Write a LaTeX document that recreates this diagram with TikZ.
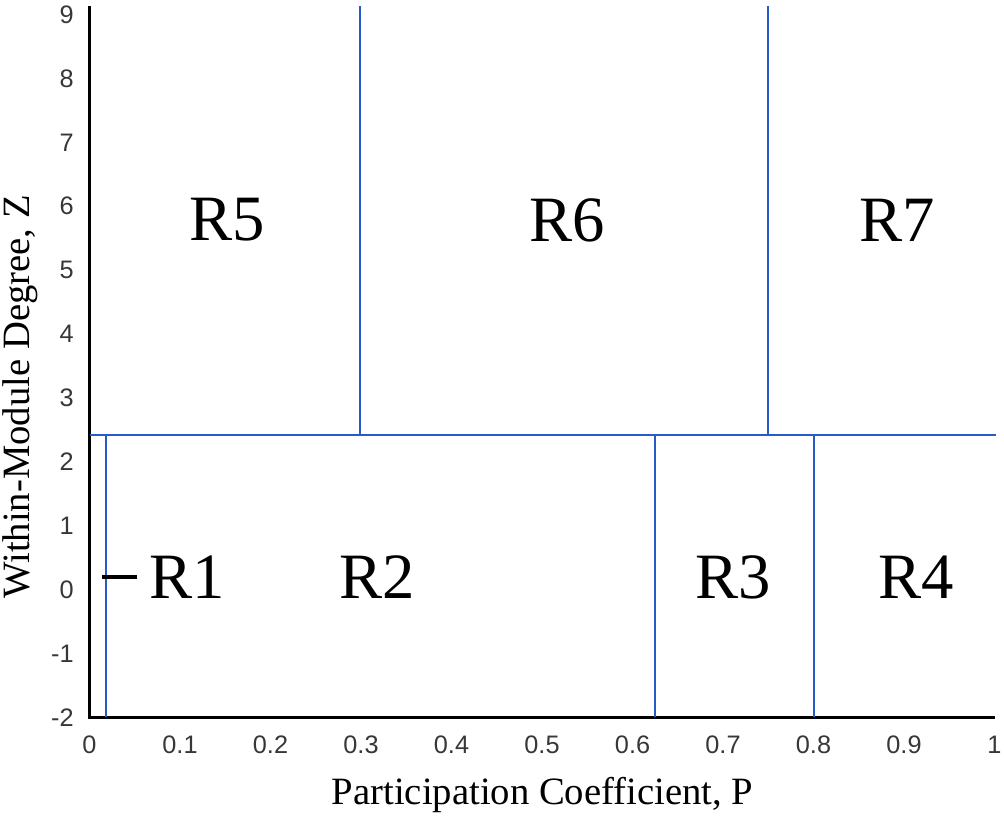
\documentclass[tikz,border=0pt]{standalone}
\usepackage{fontspec}
\setmainfont{Liberation Serif}
\newfontfamily\tickfont{Liberation Sans}
\usepackage{tikz}
\definecolor{regionblue}{RGB}{40,90,200}
\definecolor{tickgray}{RGB}{55,55,55}

\begin{document}
\begin{tikzpicture}[x=22.625cm, y=1.5975cm]
        \tikzset{
            axisline/.style={line width=2.8pt, black},
            border/.style={line width=1.4pt, regionblue},
            region/.style={font=\fontsize{46}{50}\selectfont},
            ticklabel/.style={font=\tickfont\fontsize{18}{20}\selectfont, text=tickgray},
            axistitle/.style={font=\fontsize{27.5}{32}\selectfont}
        }
        \useasboundingbox (-0.0989,-3.557) rectangle (1.0105,9.228);

        % Axes
        \draw[axisline] (0,9.13) -- (0,-2) -- (1,-2);

        % Tick labels
        \foreach \p [count=\i] in {0,0.1,0.2,0.3,0.4,0.5,0.6,0.7,0.8,0.9,1}
            \node[ticklabel] (xt\i) at (\p,-2.43) {\p};
        \foreach \z [count=\i] in {-2,...,9}
            \node[ticklabel, anchor=east] (yt\i) at (-0.012,\z) {\z};

        % Axis titles
        \node[axistitle] (xtitle) at (0.5006,-3.21) {Participation Coefficient, P};
        \node[axistitle, rotate=90] (ytitle) at (-0.0768,3.016) {Within-Module Degree, Z};

        % Region borders
        \draw[border] (0,2.42) -- (1.002,2.42);
        \draw[border] (0.299,9.13) -- (0.299,2.42);
        \draw[border] (0.750,9.13) -- (0.750,2.42);
        \draw[border] (0.018,2.42) -- (0.018,-2);
        \draw[border] (0.625,2.42) -- (0.625,-2);
        \draw[border] (0.801,2.42) -- (0.801,-2);

        % Region labels
        \node[region] (r5) at (0.152,5.786) {R5};
        \node[region] (r6) at (0.528,5.786) {R6};
        \node[region] (r7) at (0.892,5.786) {R7};
        \node[region] (r1) at (0.108,0.199) {R1};
        \node[region] (r2) at (0.318,0.199) {R2};
        \node[region] (r3) at (0.711,0.199) {R3};
        \node[region] (r4) at (0.913,0.199) {R4};

        % Pointer to the thin R1 strip
        \coordinate (r1tip) at (0.0138,0.199);
        \coordinate (r1end) at (0.0525,0.199);
        \draw[line width=2.8pt] (r1tip) -- (r1end);
    \end{tikzpicture}
\end{document}
